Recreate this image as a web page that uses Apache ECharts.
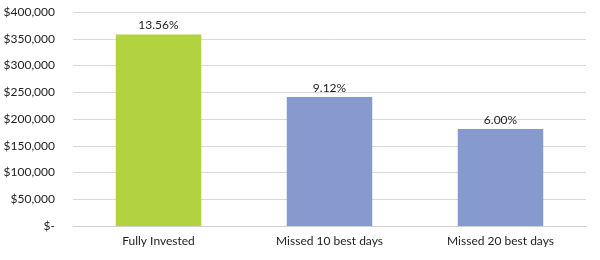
<!DOCTYPE html>
<html><head><meta charset="utf-8">
<script src="https://cdn.jsdelivr.net/npm/echarts@6/dist/echarts.min.js"></script>
<style>html,body{margin:0;padding:0;background:#fff}#c{width:600px;height:260px}</style>
</head><body><div id="c"></div>
<script>
const categories = ["Fully Invested", "Missed 10 best days", "Missed 20 best days"];
const values = [358000, 241000, 181500];
const returnLabels = ["13.56%", "9.12%", "6.00%"];
const barColors = ["#b3d23f", "#879acf", "#879acf"];

const chart = echarts.init(document.getElementById('c'), null, {renderer: 'canvas'});
const font = 'Lato, "Open Sans", sans-serif';
chart.setOption({
  animation: false,
  grid: {left: 73, right: 14, top: 12, bottom: 34, containLabel: false},
  xAxis: {
    type: 'category', data: categories,
    axisLine: {lineStyle: {color: '#d0d0d0', width: 1}},
    axisTick: {show: false},
    axisLabel: {color: '#222', fontFamily: font, fontSize: 12, margin: 9}
  },
  yAxis: {
    type: 'value', min: 0, max: 400000, interval: 50000,
    axisLine: {show: false}, axisTick: {show: false},
    splitLine: {lineStyle: {color: '#d9d9d9', width: 1}},
    axisLabel: {
      color: '#222', fontFamily: font, fontSize: 12, margin: 18,
      formatter: v => v === 0 ? '$-' : '$' + v.toLocaleString('en-US')
    }
  },
  series: [{
    type: 'bar', barWidth: '50%',
    data: values.map((v, i) => ({value: v, itemStyle: {color: barColors[i]}})),
    label: {
      show: true, position: 'top', distance: 3,
      color: '#222', fontFamily: font, fontSize: 12,
      formatter: p => returnLabels[p.dataIndex]
    }
  }]
});
</script></body></html>
